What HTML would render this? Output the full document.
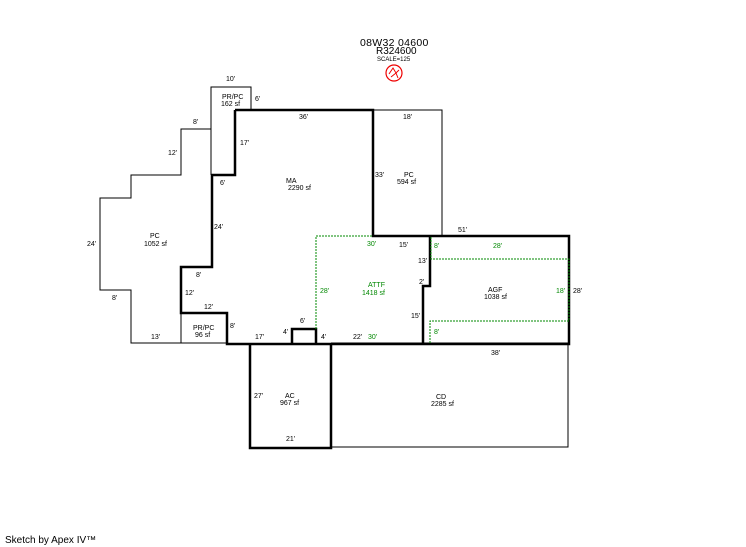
<!DOCTYPE html>
<html><head><meta charset="utf-8"><style>
html,body{margin:0;padding:0;background:#fff;width:746px;height:547px;overflow:hidden}
svg{display:block}
text{font-family:"Liberation Sans",sans-serif;font-size:7px;fill:#000}
.g{fill:#080}
</style></head><body>
<svg width="746" height="547" viewBox="0 0 746 547">
<g fill="none" stroke="#000" stroke-width="1">
<polyline points="211,129 181,129 181,175 131,175 131,198 100,198 100,290 131,290 131,343 227,343"/>
<polyline points="211,175 211,87 251,87 251,110"/>
<polyline points="373,110 442,110 442,236"/>
<rect x="181" y="313" width="46" height="30"/>
<polyline points="331,343 568,343 568,447 331,447"/>
</g>
<g fill="none" stroke="#000" stroke-width="2.5">
<polyline points="235,110 373,110 373,236 569,236 569,344 227,344 227,313 181,313 181,267 212,267 212,175 235,175 235,110"/>
<polyline points="430,236 430,286 423,286 423,344"/>
<polyline points="292,344 292,329 316,329 316,344"/>
<polyline points="250,344 250,448 331,448 331,344"/>
</g>
<g fill="none" stroke="#080" stroke-width="1" stroke-dasharray="2,1">
<polyline points="316,329 316,236 373,236"/>
<polyline points="431,237 431,259 569,259 569,321 430,321 430,343"/>
</g>
<text x="360" y="46" style="font-size:10.5px;letter-spacing:0.3px">08W32  04600</text>
<text x="376" y="54" style="font-size:10px">R324600</text>
<text x="377" y="61" style="font-size:6px">SCALE=125</text>
<circle cx="394" cy="73" r="8" fill="none" stroke="#e00" stroke-width="1.2"/>
<path d="M389,74 l4,-6 l3,5 l3,-3 M391,77 l5,-4 l2,5" fill="none" stroke="#e00" stroke-width="1"/>
<text x="226" y="81">10'</text>
<text x="222" y="99">PR/PC</text>
<text x="221" y="106">162 sf</text>
<text x="255" y="101">6'</text>
<text x="193" y="124">8'</text>
<text x="168" y="155">12'</text>
<text x="240" y="145">17'</text>
<text x="299" y="119">36'</text>
<text x="403" y="119">18'</text>
<text x="220" y="185">6'</text>
<text x="286" y="183">MA</text>
<text x="288" y="190">2290 sf</text>
<text x="375" y="177">33'</text>
<text x="404" y="177">PC</text>
<text x="397" y="184">594 sf</text>
<text x="87" y="246">24'</text>
<text x="150" y="238">PC</text>
<text x="144" y="246">1052 sf</text>
<text x="214" y="229">24'</text>
<text x="458" y="232">51'</text>
<text class="g" x="367" y="246">30'</text>
<text x="399" y="247">15'</text>
<text class="g" x="434" y="248">8'</text>
<text class="g" x="493" y="248">28'</text>
<text x="418" y="263">13'</text>
<text x="419" y="284">2'</text>
<text x="196" y="277">8'</text>
<text class="g" x="368" y="287">ATTF</text>
<text class="g" x="362" y="295">1418 sf</text>
<text class="g" x="320" y="293">28'</text>
<text x="488" y="292">AGF</text>
<text x="484" y="299">1038 sf</text>
<text class="g" x="556" y="293">18'</text>
<text x="573" y="293">28'</text>
<text x="185" y="295">12'</text>
<text x="204" y="309">12'</text>
<text x="411" y="318">15'</text>
<text x="112" y="300">8'</text>
<text x="230" y="328">8'</text>
<text x="300" y="323">6'</text>
<text class="g" x="434" y="334">8'</text>
<text x="193" y="330">PR/PC</text>
<text x="195" y="337">96 sf</text>
<text x="151" y="339">13'</text>
<text x="255" y="339">17'</text>
<text x="283" y="334">4'</text>
<text x="321" y="339">4'</text>
<text x="353" y="339">22'</text>
<text class="g" x="368" y="339">30'</text>
<text x="491" y="355">38'</text>
<text x="285" y="398">AC</text>
<text x="280" y="405">967 sf</text>
<text x="254" y="398">27'</text>
<text x="436" y="399">CD</text>
<text x="431" y="406">2285 sf</text>
<text x="286" y="441">21'</text>
<text x="5" y="543" style="font-size:10px">Sketch by Apex IV™</text>
</svg>
</body></html>
